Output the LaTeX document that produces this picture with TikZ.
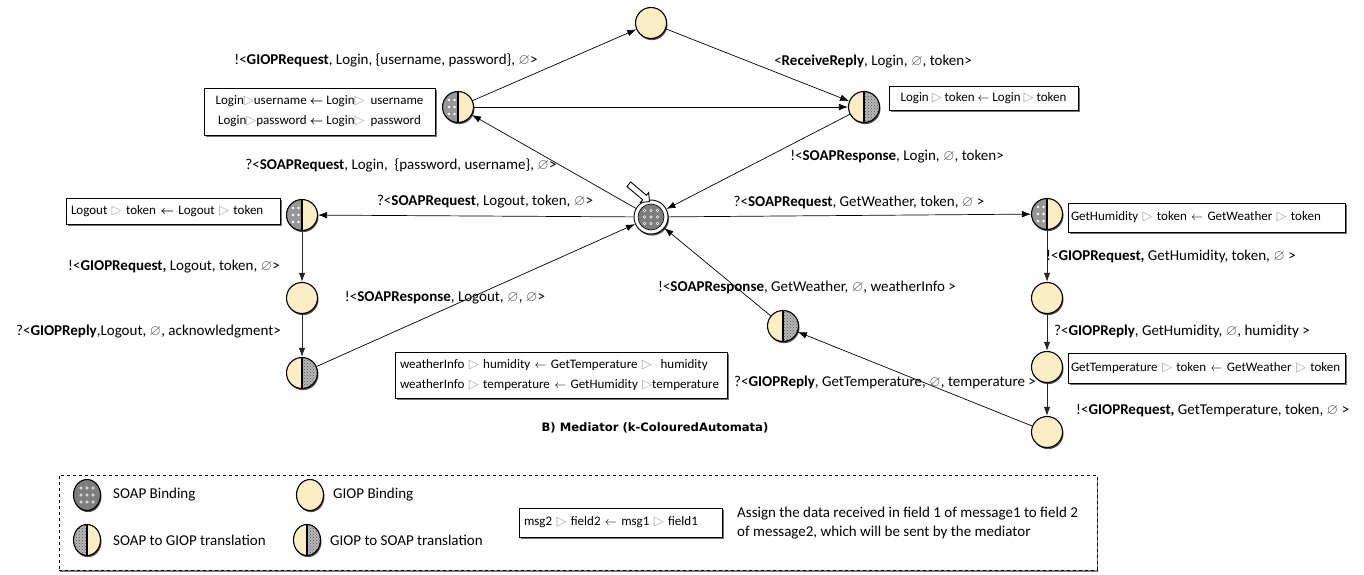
\documentclass[tikz,border=0pt]{standalone}
\usepackage{amsmath,amssymb}
\usepackage{fontspec}
\setmainfont{Carlito}
\newfontfamily\titlefont{DejaVu Sans}
\usetikzlibrary{arrows.meta,shadows,shapes.geometric,shapes.arrows,patterns}
\definecolor{giop}{RGB}{251,238,196}
\definecolor{soapg}{RGB}{125,125,125}
\definecolor{hatchg}{RGB}{185,185,185}
\newcommand{\mytri}{{\titlefont\textcolor{gray!65}{▷}}}
\newcommand{\myla}{$\leftarrow$}
\newcommand{\mylab}{$\boldsymbol{\leftarrow}$}
\newcommand{\myes}{\textcolor{black!65}{$\varnothing$}}
\newcommand{\lblfont}{\fontsize{15}{18}\selectfont}
\newcommand{\boxfont}{\fontsize{13}{20}\selectfont}
\tikzset{
  shd/.style={drop shadow={shadow xshift=1pt, shadow yshift=-1.6pt, opacity=0.7, fill=black}},
  st/.style={circle, draw, line width=1.1pt, minimum size=31pt, inner sep=0pt, shd},
  giopst/.style={st, fill=giop},
  sgst/.style={st, fill=giop, path picture={
      \fill[soapg!80] (path picture bounding box.north west) rectangle (path picture bounding box.south);
      \foreach \yy in {-7,0,7}{
        \fill[white] ([shift={(-9,\yy)}]path picture bounding box.center) circle (1.3pt);
        \fill[white] ([shift={(-3.5,\yy)}]path picture bounding box.center) circle (1.3pt);}
      \draw[line width=1.1pt] (path picture bounding box.north) -- (path picture bounding box.south);}},
  gsst/.style={st, fill=giop, path picture={
      \fill[hatchg] (path picture bounding box.north) rectangle (path picture bounding box.south east);
      \fill[pattern=crosshatch dots, pattern color=black!70] (path picture bounding box.north) rectangle (path picture bounding box.south east);
      \draw[line width=1.1pt] (path picture bounding box.north) -- (path picture bounding box.south);}},
  soapc/.style={circle, draw, line width=0.9pt, fill=white, minimum size=34pt, inner sep=0pt, shd, path picture={
      \fill[soapg, draw=black, line width=0.6pt] (path picture bounding box.center) circle (13pt);
      \foreach \i in {-1,0,1}{\foreach \j in {-1,0,1}{
        \fill[white] ([shift={(\i*6.5,\j*6.5)}]path picture bounding box.center) circle (1.7pt);
        \fill[black!70] ([shift={(\i*6.5,\j*6.5)}]path picture bounding box.center) circle (0.6pt);}}}},
  lel/.style={ellipse, draw, line width=1.1pt, minimum width=27pt, minimum height=31pt, inner sep=0pt, shd},
  lsoap/.style={lel, fill=soapg, path picture={
      \foreach \i in {-1,0,1}{\foreach \j in {-1,0,1}{
        \fill[white] ([shift={(\i*6,\j*7)}]path picture bounding box.center) circle (1.6pt);
        \fill[black!70] ([shift={(\i*6,\j*7)}]path picture bounding box.center) circle (0.6pt);}}}},
  lgiop/.style={lel, fill=giop},
  lsg/.style={lel, fill=giop, path picture={
      \fill[hatchg] (path picture bounding box.north west) rectangle (path picture bounding box.south);
      \fill[pattern=crosshatch dots, pattern color=black!70] (path picture bounding box.north west) rectangle (path picture bounding box.south);
      \draw[line width=1.1pt] (path picture bounding box.north) -- (path picture bounding box.south);}},
  lgs/.style={lel, fill=giop, path picture={
      \fill[hatchg] (path picture bounding box.north) rectangle (path picture bounding box.south east);
      \fill[pattern=crosshatch dots, pattern color=black!70] (path picture bounding box.north) rectangle (path picture bounding box.south east);
      \draw[line width=1.1pt] (path picture bounding box.north) -- (path picture bounding box.south);}},
  arr/.style={-{Latex[length=9pt,width=6.5pt]}, line width=0.7pt},
  varr/.style={-{Latex[length=9pt,width=6.5pt]}, line width=1pt, black!85},
  bx/.style={draw, line width=0.6pt, fill=white, font=\boxfont, inner sep=0pt,
      drop shadow={shadow xshift=1.5pt, shadow yshift=-2pt, opacity=0.55, fill=black}},
  lbox/.style={bx, align=left, inner xsep=5pt},
  lbl/.style={font=\lblfont, inner sep=0pt},
  leg/.style={font=\fontsize{15}{18}\selectfont, inner sep=0pt, anchor=west},
}
\begin{document}
\begin{tikzpicture}[x=1pt,y=-1pt]
\useasboundingbox (0,0) rectangle (1364,575);

% states
\node[sgst] (L1) at (458,107) {};
\node[giopst] (T) at (651,23) {};
\node[gsst] (L2) at (864,107) {};
\node[soapc] (C) at (651,217) {};
\node[sgst] (LO1) at (302,215) {};
\node[giopst] (LO2) at (302,298) {};
\node[gsst] (LO3) at (302,373) {};
\node[sgst] (W1) at (1047,214) {};
\node[giopst] (W2) at (1047,298) {};
\node[giopst] (W3) at (1047,367) {};
\node[giopst] (W4) at (1047,432) {};
\node[gsst] (W5) at (783,326) {};

% initial pointer
\node[single arrow, draw, fill=white, line width=0.9pt, minimum height=27pt, minimum width=12pt,
      single arrow head extend=3.5pt, inner sep=2.5pt, rotate=-40] (init) at (638,192) {};

% transitions
\draw[arr] (L1) -- (T);
\draw[arr] (T) -- (L2);
\draw[arr] (L1) -- (L2);
\draw[arr] (C) -- (L1);
\draw[arr] (L2) -- (C);
\draw[arr] (C) -- (LO1);
\draw[varr] (LO1) -- (LO2);
\draw[varr] (LO2) -- (LO3);
\draw[arr] (LO3) -- (C);
\draw[arr] (C) -- (W1);
\draw[varr] (W1) -- (W2);
\draw[varr] (W2) -- (W3);
\draw[varr] (W3) -- (W4);
\draw[arr] (W4) -- (W5);
\draw[arr] (W5) -- (C);

% labels
\node[lbl] (t1) at (386,60) {!<\textbf{GIOPRequest}, Login, \{username, password\}, \myes>};
\node[lbl] (t2) at (401,165) {?<\textbf{SOAPRequest}, Login, \ \{password, username\}, \myes>};
\node[lbl] (t3) at (873,62) {<\textbf{ReceiveReply}, Login, \myes, token>};
\node[lbl] (t4) at (897,157) {!<\textbf{SOAPResponse}, Login, \myes, token>};
\node[lbl] (t5) at (485,202) {?<\textbf{SOAPRequest}, Logout, token, \myes>};
\node[lbl] (t6) at (174,267) {!<\textbf{GIOPRequest,} Logout, token, \myes>};
\node[lbl, anchor=east] (t7) at (281,332) {?<\textbf{GIOPReply},Logout, \myes, acknowledgment>};
\node[lbl] (t8) at (445,298) {!<\textbf{SOAPResponse}, Logout, \myes, \myes>};
\node[lbl] (t9) at (859,202) {?<\textbf{SOAPRequest}, GetWeather, token, \myes\ >};
\node[lbl] (t10) at (807,287) {!<\textbf{SOAPResponse}, GetWeather, \myes, weatherInfo >};
\node[lbl, anchor=west] (t11) at (734,382) {?<\textbf{GIOPReply}, GetTemperature, \myes, temperature >};
\node[lbl, anchor=west] (t12) at (1046,256) {!<\textbf{GIOPRequest,} GetHumidity, token, \myes\ >};
\node[lbl, anchor=west] (t13) at (1054,331) {?<\textbf{GIOPReply}, GetHumidity, \myes, humidity >};
\node[lbl, anchor=west] (t14) at (1076,410) {!<\textbf{GIOPRequest,} GetTemperature, token, \myes\ >};

% assignment boxes
\node[bx, minimum width=231pt, minimum height=47pt, align=center] (bLogin) at (319.5,111.5)
  {Login\mytri username \mylab{} Login\mytri\ \ username\\ Login\mytri password \mylab{} Login\mytri\ \ password};
\node[bx, minimum width=189pt, minimum height=24pt] (bTok) at (983.5,98)
  {Login \mytri\ token \myla{} Login \mytri\ token};
\node[lbox, text width=204pt, minimum height=26pt] (bLogout) at (173,211)
  {\mbox{Logout \mytri\ token \mylab{} Logout \mytri\ token}};
\node[lbox, inner xsep=3pt, text width=271pt, minimum height=29pt] (bHum) at (1206.5,217.5)
  {\mbox{GetHumidity \mytri\ token \myla{} GetWeather \mytri\ token}};
\node[lbox, inner xsep=3pt, text width=271pt, minimum height=30pt] (bTemp) at (1206.5,368)
  {\mbox{GetTemperature \mytri\ token \myla{} GetWeather \mytri\ token}};
\node[lbox, text width=322pt, minimum height=46pt] (bWeather) at (561,375)
  {\mbox{weatherInfo \mytri\ humidity \myla{} GetTemperature \mytri\ \ humidity}\\ \mbox{weatherInfo \mytri\ temperature \myla{} GetHumidity \mytri temperature}};

% title
\node[font=\titlefont\bfseries\fontsize{11.6}{14}\selectfont, inner sep=0pt] (title) at (655,428) {B) Mediator (k-ColouredAutomata)};

% legend
\node[draw, dashed, line width=0.6pt, fill=white, minimum width=1038pt, minimum height=95pt, inner sep=0pt,
      drop shadow={shadow xshift=1pt, shadow yshift=-1.5pt, opacity=0.5, fill=black}] (legend) at (578,522.5) {};
\node[lsoap] (kS) at (87,495) {};
\node[leg] (kSt) at (113,495) {SOAP Binding};
\node[lsg] (kSG) at (87,540) {};
\node[leg] (kSGt) at (113,540) {SOAP to GIOP translation};
\node[lgiop] (kG) at (310,495) {};
\node[leg] (kGt) at (333,495) {GIOP Binding};
\node[lgs] (kGS) at (307,540) {};
\node[leg] (kGSt) at (330,540) {GIOP to SOAP translation};
\node[lbox, text width=193pt, minimum height=29pt, drop shadow={opacity=0}] (kMsg) at (620.5,522.5)
  {\mbox{msg2 \mytri\ field2 \myla{} msg1 \mytri\ field1}};
\node[font=\fontsize{15}{19}\selectfont, inner sep=0pt, anchor=west, align=left] (kDesc) at (737,523)
  {Assign the data received in field 1 of message1 to field 2\\ of message2, which will be sent by the mediator};
\end{tikzpicture}
\end{document}
